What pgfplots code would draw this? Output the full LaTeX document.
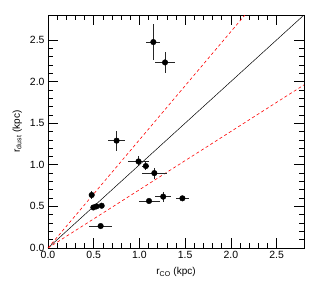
\documentclass[border=0pt]{standalone}
\usepackage{pgfplots}
\pgfplotsset{compat=1.18}
\usepackage{fontspec}
\setmainfont{Liberation Sans}
\begin{document}
\begin{tikzpicture}
\path[use as bounding box] (-48bp,-44bp) rectangle (273bp,248bp);
\begin{axis}[
  at={(0,0)}, anchor=south west,
  scale only axis, width=256bp, height=233bp,
  xmin=0, xmax=2.8, ymin=0, ymax=2.8,
  xtick={0,0.5,...,2.5}, ytick={0,0.5,...,2.5},
  minor x tick num=4, minor y tick num=4,
  major tick length=10bp, minor tick length=5bp,
  tick align=inside,
  tick style={black, line width=0.6pt},
  axis line style={line width=0.7pt},
  every tick label/.style={font=\fontsize{10.5}{12}\selectfont},
  /pgf/number format/assume math mode=true,
  xticklabel style={/pgf/number format/.cd, fixed, fixed zerofill, precision=1},
  yticklabel style={/pgf/number format/.cd, fixed, fixed zerofill, precision=1},
  label style={font=\fontsize{10}{12}\selectfont},
  xlabel={r\textsubscript{CO} (kpc)},
  ylabel={r\textsubscript{dust} (kpc)},
  xlabel style={at={(axis description cs:0.5,-0.103)}, anchor=center},
  ylabel style={at={(axis description cs:-0.12,0.5)}, anchor=center},
  clip=true,
]
\addplot[black, line width=0.5pt] coordinates {(0,0) (2.8,2.8)};
\addplot[red, line width=0.6pt, dash pattern=on 3bp off 2.5bp] coordinates {(0,0) (2.8,3.64)};
\addplot[red, line width=0.6pt, dash pattern=on 3bp off 2.5bp] coordinates {(0,0) (2.8,1.96)};
\addplot[only marks, mark=*, mark size=2.8bp, black,
  error bars/.cd, x dir=both, x explicit, y dir=both, y explicit,
  error mark=none, error bar style={black!85, line width=0.7pt}]
  table[x=x, y=y, x error=ex, y error=ey] {
  x     y     ex    ey
  1.152 2.475 0.077 0.22
  1.280 2.230 0.106 0.126
  0.750 1.290 0.090 0.120
  0.990 1.040 0.117 0.060
  1.070 0.985 0.040 0.050
  1.163 0.900 0.137 0.066
  0.478 0.637 0.020 0.050
  0.496 0.487 0.020 0.020
  0.530 0.500 0.020 0.020
  0.587 0.508 0.020 0.020
  0.576 0.264 0.128 0.020
  1.105 0.565 0.115 0.020
  1.260 0.617 0.090 0.060
  1.470 0.597 0.073 0.020
};
\end{axis}
\end{tikzpicture}
\end{document}
